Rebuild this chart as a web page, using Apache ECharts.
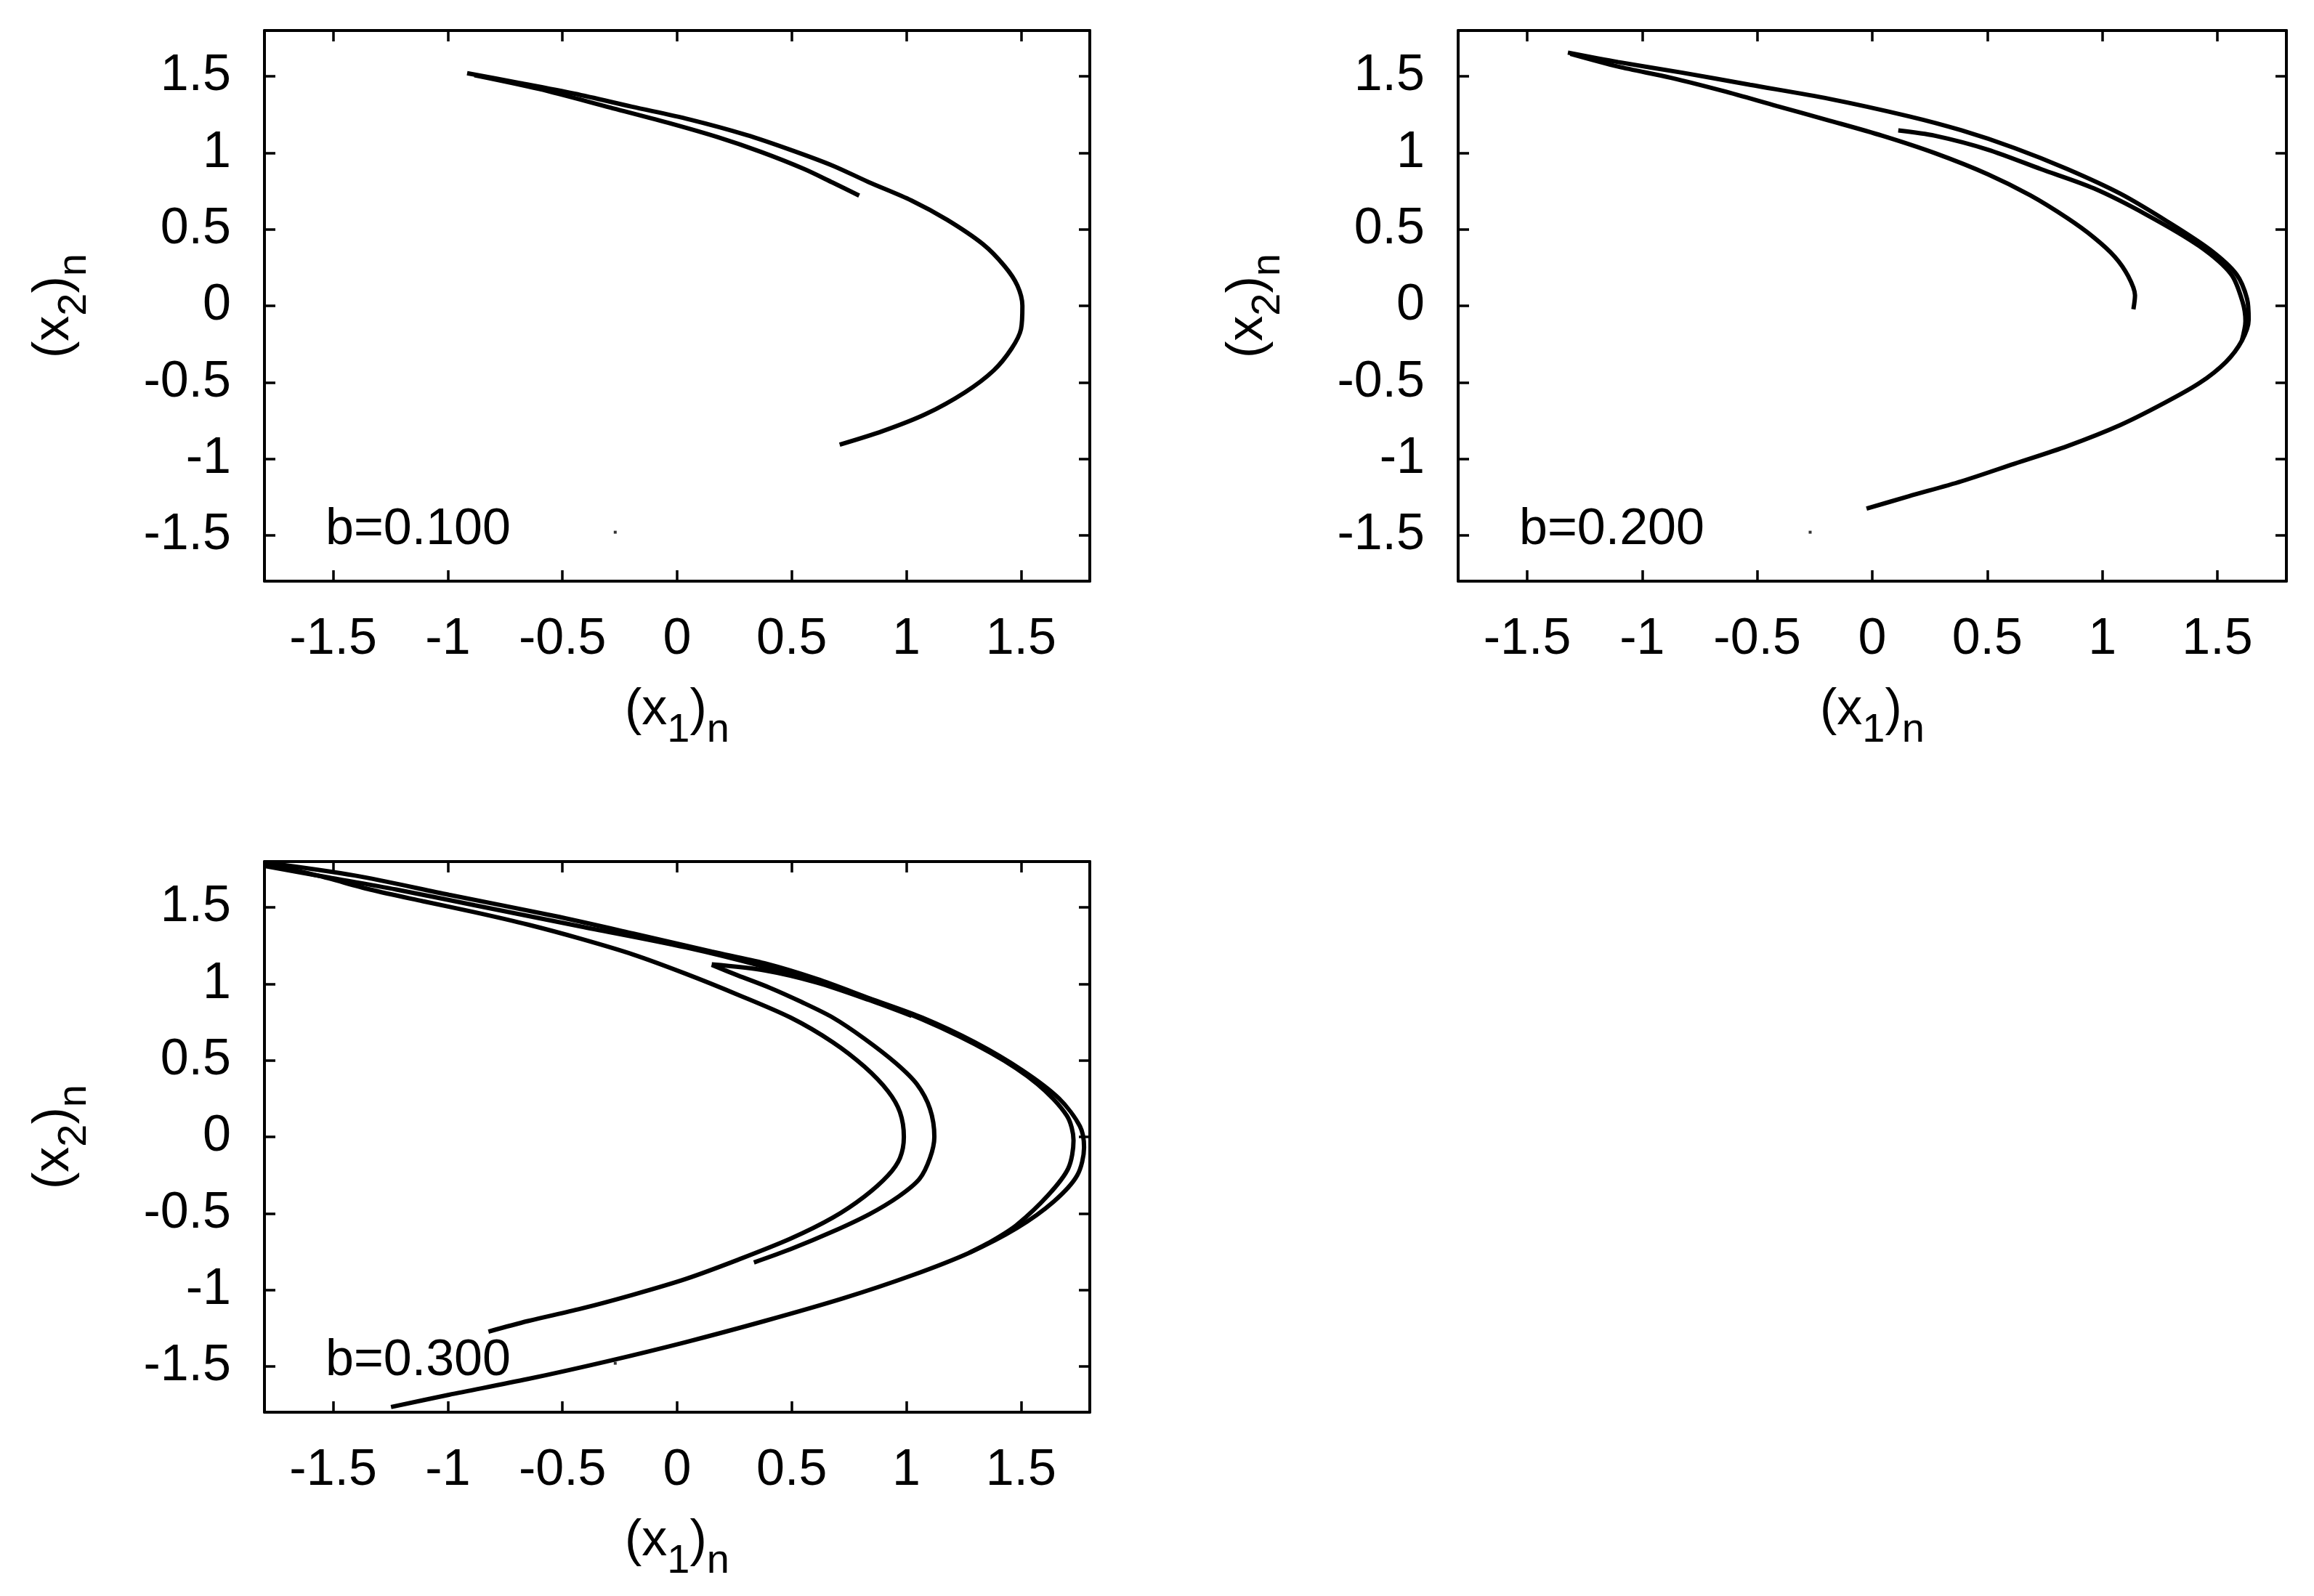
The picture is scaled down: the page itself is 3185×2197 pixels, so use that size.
<!DOCTYPE html>
<html>
<head>
<meta charset="utf-8">
<script src="https://cdn.jsdelivr.net/npm/echarts@6/dist/echarts.min.js"></script>
<style>
html,body{margin:0;padding:0;background:#fff;}
#chart{width:3185px;height:2197px;}
</style>
</head>
<body>
<div id="chart"></div>
<script>
// ---------- data ----------
const tickValues = [-1.5, -1, -0.5, 0, 0.5, 1, 1.5];
const axisMin = -1.8, axisMax = 1.8;
const panelLabels = ['b=0.100', 'b=0.200', 'b=0.300'];
const keySample = [[-0.27, -1.48]];

// b = 0.100
const b1Outer = [[-0.916,1.521],[-0.697,1.460],[-0.447,1.387],[-0.197,1.302],[0.053,1.219],[0.303,1.117],[0.491,1.022],[0.678,0.917],[0.834,0.810],[1.022,0.689],[1.178,0.562],[1.334,0.403],[1.428,0.260],[1.484,0.133],[1.506,0.000],[1.500,-0.152],[1.459,-0.279],[1.381,-0.422],[1.256,-0.565],[1.084,-0.708],[0.897,-0.819],[0.709,-0.908]];
const b1Inner = [[-0.884,1.508],[-0.603,1.418],[-0.291,1.296],[-0.041,1.197],[0.178,1.102],[0.366,1.006],[0.553,0.895],[0.678,0.806],[0.794,0.721]];

// b = 0.200
const b2Outer = [[-1.323,1.656],[-1.105,1.594],[-0.829,1.525],[-0.531,1.445],[-0.186,1.353],[0.159,1.239],[0.388,1.147],[0.618,1.032],[0.848,0.894],[1.077,0.734],[1.284,0.550],[1.468,0.367],[1.583,0.206],[1.629,0.046],[1.636,-0.092],[1.606,-0.229],[1.537,-0.367],[1.422,-0.505],[1.261,-0.642],[1.077,-0.780],[0.848,-0.917],[0.618,-1.032],[0.388,-1.147],[0.159,-1.245],[-0.025,-1.326]];
const b2Band = [[0.113,1.147],[0.273,1.112],[0.503,1.021],[0.733,0.894],[0.963,0.768],[1.192,0.596],[1.422,0.390],[1.560,0.206],[1.610,0.023],[1.622,-0.100],[1.606,-0.229]];
const b2Inner = [[-1.312,1.647],[-1.105,1.564],[-0.875,1.491],[-0.646,1.404],[-0.416,1.307],[-0.186,1.211],[0.044,1.112],[0.273,0.998],[0.503,0.860],[0.687,0.722],[0.848,0.573],[0.963,0.447],[1.054,0.321],[1.112,0.195],[1.142,0.069],[1.135,-0.023]];

// b = 0.300
const b3Outer = [[-1.800,1.794],[-1.408,1.709],[-0.995,1.583],[-0.537,1.445],[-0.193,1.330],[0.151,1.211],[0.381,1.135],[0.610,1.032],[0.839,0.906],[1.069,0.780],[1.298,0.619],[1.505,0.436],[1.665,0.252],[1.757,0.069],[1.775,-0.069],[1.745,-0.252],[1.642,-0.424],[1.482,-0.596],[1.275,-0.757],[1.023,-0.906],[0.725,-1.055],[0.381,-1.204],[0.037,-1.342],[-0.307,-1.468],[-0.651,-1.583],[-0.995,-1.686],[-1.248,-1.766]];
const b3Outer2 = [[-1.800,1.771],[-1.523,1.697],[-1.225,1.617],[-0.881,1.514],[-0.422,1.376],[0.037,1.239],[0.381,1.112],[0.725,0.963],[1.069,0.768],[1.367,0.550],[1.573,0.344],[1.700,0.138],[1.729,-0.023],[1.706,-0.206],[1.619,-0.380],[1.482,-0.575],[1.380,-0.675],[1.275,-0.757]];
const b3Fold = [[0.151,1.128],[0.381,1.089],[0.610,1.009],[0.839,0.894],[1.023,0.791]];
const b3Middle = [[0.151,1.124],[0.266,1.055],[0.404,0.975],[0.541,0.883],[0.679,0.780],[0.817,0.642],[0.954,0.482],[1.046,0.344],[1.103,0.183],[1.122,0.000],[1.103,-0.138],[1.057,-0.275],[0.966,-0.390],[0.839,-0.505],[0.679,-0.619],[0.495,-0.734],[0.335,-0.821]];
const b3Inner = [[-1.775,1.775],[-1.569,1.709],[-1.339,1.617],[-1.110,1.541],[-0.881,1.468],[-0.651,1.388],[-0.422,1.296],[-0.193,1.193],[0.037,1.067],[0.266,0.929],[0.495,0.780],[0.679,0.619],[0.817,0.459],[0.920,0.298],[0.972,0.161],[0.989,0.000],[0.972,-0.138],[0.920,-0.252],[0.817,-0.390],[0.679,-0.528],[0.495,-0.665],[0.266,-0.803],[0.037,-0.929],[-0.193,-1.032],[-0.422,-1.124],[-0.651,-1.204],[-0.823,-1.273]];

const panelCurves = [
  [b1Outer, b1Inner],
  [b2Outer, b2Band, b2Inner],
  [b3Outer, b3Outer2, b3Fold, b3Middle, b3Inner]
];

// ---------- layout ----------
const FONT = "'Liberation Sans', Arial, sans-serif";
const grids = [
  {left: 364, top: 42, width: 1136, height: 758},
  {left: 2007, top: 42, width: 1140, height: 758},
  {left: 364, top: 1186, width: 1136, height: 758}
];

const chart = echarts.init(document.getElementById('chart'));

const xAxes = [], yAxes = [], series = [], graphic = [];
function axisBase(gi, pos, labels) {
  return {
    gridIndex: gi, type: 'value', min: axisMin, max: axisMax, position: pos,
    axisLine: {show: true, onZero: false, lineStyle: {color: '#000', width: 4}},
    axisTick: {show: true, inside: true, length: 15, customValues: tickValues,
               lineStyle: {color: '#000', width: 3.5}},
    axisLabel: {show: labels, customValues: tickValues, fontSize: 70, fontFamily: FONT,
                color: '#000', margin: 46, formatter: v => String(v)},
    splitLine: {show: false}
  };
}

grids.forEach((g, i) => {
  xAxes.push(axisBase(i, 'bottom', true));
  xAxes.push(axisBase(i, 'top', false));
  yAxes.push(axisBase(i, 'left', true));
  yAxes.push(axisBase(i, 'right', false));
  panelCurves[i].forEach(curve => {
    series.push({
      type: 'line', xAxisIndex: 2 * i, yAxisIndex: 2 * i, data: curve,
      showSymbol: false, smooth: 0.3, silent: true,
      lineStyle: {color: '#000', width: 6}, animation: false
    });
  });
  series.push({
    type: 'scatter', xAxisIndex: 2 * i, yAxisIndex: 2 * i, data: keySample,
    symbol: 'rect', symbolSize: 4, itemStyle: {color: '#000'}, animation: false, silent: true
  });
  // key label
  graphic.push({
    type: 'text', x: g.left + 84, y: g.top + 688,
    style: {text: panelLabels[i], fontSize: 70, fontFamily: FONT, fill: '#000',
            align: 'left', verticalAlign: 'middle'}
  });
  const rich = {
    m: {fontSize: 70, lineHeight: 112, fontFamily: FONT, fill: '#000', color: '#000'},
    s: {fontSize: 56, lineHeight: 56, fontFamily: FONT, fill: '#000', color: '#000', verticalAlign: 'bottom'}
  };
  // x axis name
  graphic.push({
    type: 'text', x: g.left + g.width / 2, y: g.top + g.height + 178,
    style: {text: '{m|(x}{s|1}{m|)}{s|n}', rich: rich, align: 'center', verticalAlign: 'middle'}
  });
  // y axis name
  graphic.push({
    type: 'text', x: g.left - 289, y: g.top + g.height / 2, rotation: Math.PI / 2,
    style: {text: '{m|(x}{s|2}{m|)}{s|n}', rich: rich, align: 'center', verticalAlign: 'middle'}
  });
});

chart.setOption({
  animation: false,
  backgroundColor: '#fff',
  grid: grids.map(g => Object.assign({containLabel: false}, g)),
  xAxis: xAxes,
  yAxis: yAxes,
  series: series,
  graphic: graphic
});
</script>
</body>
</html>
